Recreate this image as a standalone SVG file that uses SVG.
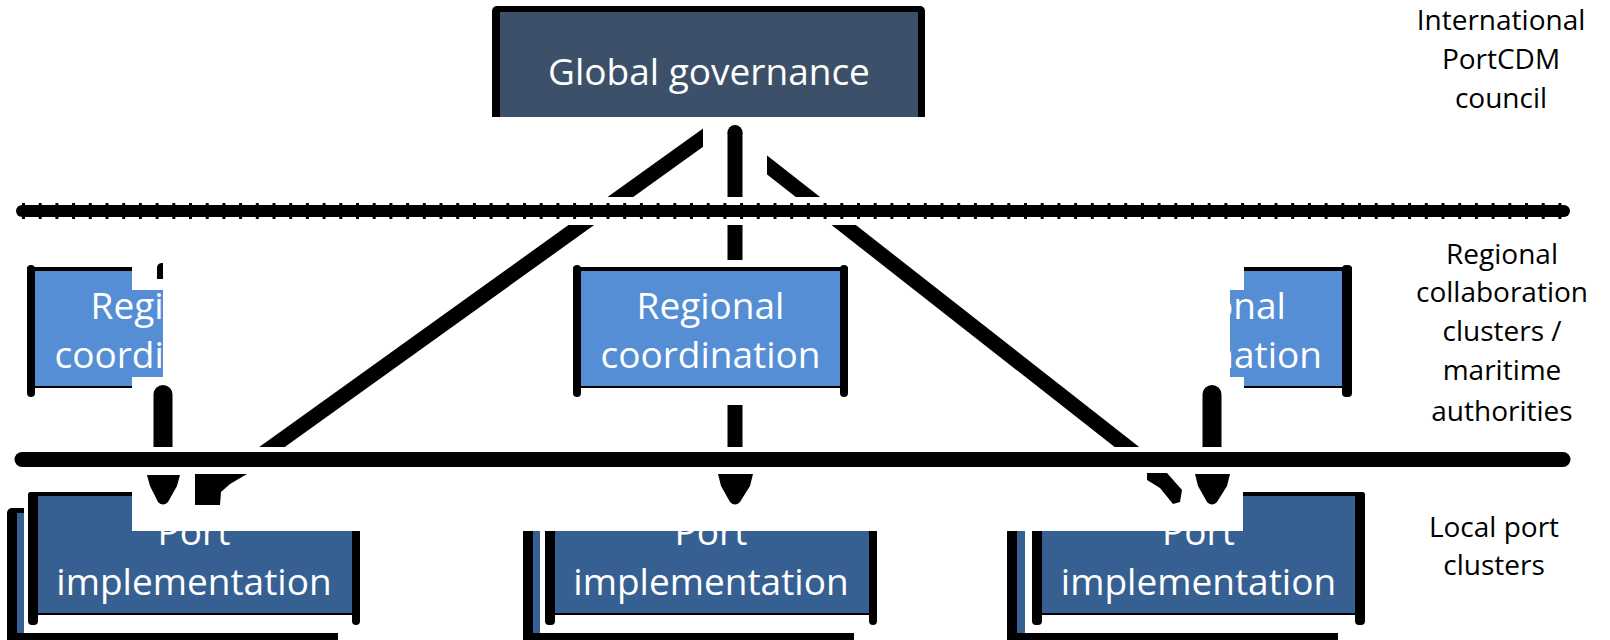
<svg xmlns="http://www.w3.org/2000/svg" width="1610" height="640" viewBox="0 0 1610 640">
<style>
.t{font-family:"Open Sans","Noto Sans","Liberation Sans",sans-serif;fill:#fff;font-size:37px;text-anchor:middle}
.lbl{font-family:"Open Sans","Noto Sans","Liberation Sans",sans-serif;fill:#000;font-size:28px;text-anchor:middle}
.k{fill:#000}
.w{fill:#fff}
.gov{fill:#3C5069}
.reg{fill:#558ED5}
.port{fill:#376092}
.conn{stroke:#000;stroke-width:15;fill:none}
.vert{stroke:#000;stroke-width:19;stroke-linecap:round;fill:none}
.bar{stroke:#000;stroke-linecap:round;fill:none}
</style>
<rect width="1610" height="640" fill="#fff"/>

<g id="global">
<rect class="k" x="492" y="6" width="433" height="130" rx="5"/>
<rect class="gov" x="500" y="12" width="418" height="124"/>
<text class="t" x="709" y="85">Global governance</text>
</g>

<g id="regional-1">
<rect class="k" x="27" y="267" width="275" height="121"/>
<rect class="k" x="27" y="265" width="8" height="132" rx="4"/>
<rect class="k" x="294" y="265" width="8" height="132" rx="4"/>
<rect class="reg" x="35" y="271" width="259" height="115"/>
<text class="t" x="164.5" y="319">Regional</text>
<text class="t" x="164.5" y="368">coordination</text>
</g>

<g id="regional-2">
<rect class="k" x="573" y="267" width="275" height="121"/>
<rect class="k" x="573" y="265" width="8" height="132" rx="4"/>
<rect class="k" x="840" y="265" width="8" height="132" rx="4"/>
<rect class="reg" x="581" y="271" width="259" height="115"/>
<text class="t" x="710.5" y="319">Regional</text>
<text class="t" x="710.5" y="368">coordination</text>
</g>

<g id="regional-3">
<rect class="k" x="1074" y="267" width="278" height="121"/>
<rect class="k" x="1074" y="265" width="8" height="132" rx="4"/>
<rect class="k" x="1342" y="265" width="10" height="132" rx="4"/>
<rect class="reg" x="1082" y="271" width="260" height="115"/>
<text class="t" x="1212" y="319">Regional</text>
<text class="t" x="1212" y="368">coordination</text>
</g>

<g id="port-1">
<rect class="k" x="7" y="508" width="331" height="140" rx="5"/>
<rect class="port" x="17" y="513" width="300" height="120"/>
<rect class="w" x="24" y="500" width="340" height="133"/>
<rect class="k" x="28" y="492" width="332" height="123" rx="3"/>
<rect class="k" x="28" y="492" width="10" height="133" rx="4"/>
<rect class="k" x="352" y="492" width="8" height="133" rx="4"/>
<rect class="port" x="38" y="496" width="314" height="117"/>
<text class="t" x="194" y="545">Port</text>
<text class="t" x="194" y="595">implementation</text>
</g>

<g id="port-2">
<rect class="k" x="523" y="508" width="331" height="140" rx="5"/>
<rect class="port" x="533" y="513" width="300" height="120"/>
<rect class="w" x="540" y="500" width="340" height="133"/>
<rect class="k" x="545" y="492" width="332" height="123" rx="3"/>
<rect class="k" x="545" y="492" width="10" height="133" rx="4"/>
<rect class="k" x="869" y="492" width="8" height="133" rx="4"/>
<rect class="port" x="555" y="496" width="314" height="117"/>
<text class="t" x="711" y="545">Port</text>
<text class="t" x="711" y="595">implementation</text>
</g>

<g id="port-3">
<rect class="k" x="1007" y="508" width="331" height="140" rx="5"/>
<rect class="port" x="1017" y="513" width="300" height="120"/>
<rect class="w" x="1025" y="500" width="345" height="133"/>
<rect class="k" x="1032" y="492" width="333" height="123" rx="3"/>
<rect class="k" x="1032" y="492" width="10" height="133" rx="4"/>
<rect class="k" x="1355" y="492" width="10" height="133" rx="4"/>
<rect class="port" x="1042" y="496" width="313" height="117"/>
<text class="t" x="1198.5" y="545">Port</text>
<text class="t" x="1198.5" y="595">implementation</text>
</g>

<g id="occluders" class="w">
<rect x="480" y="117" width="460" height="25"/>
<rect x="132" y="258" width="175" height="32"/>
<rect x="163" y="290" width="144" height="87"/>
<rect x="132" y="377" width="175" height="24"/>
<rect x="1066" y="258" width="178" height="32"/>
<rect x="1066" y="290" width="164" height="87"/>
<rect x="1066" y="377" width="178" height="24"/>
<rect x="132" y="470" width="236" height="61"/>
<rect x="515" y="470" width="370" height="61"/>
<rect x="995" y="470" width="248" height="61"/>
</g>

<g id="connectors">
<line class="conn" x1="716.5" y1="128" x2="253.9" y2="460"/>
<line class="conn" x1="748" y1="150" x2="1143.5" y2="460"/>
<rect class="w" x="703" y="117" width="24.5" height="80"/>
<rect class="w" x="742.5" y="117" width="24.5" height="80"/>
<path class="conn" d="M735,132.5V260M735,405V460"/>
<circle class="k" cx="735" cy="132.5" r="7.5"/>
<line class="vert" x1="163" y1="394.5" x2="163" y2="460"/>
<line class="vert" x1="1212" y1="394.5" x2="1212" y2="460"/>
<path class="k" d="M157,279V267Q158,262.5 163,263V279Z"/>
<rect class="w" x="0" y="197" width="1610" height="28"/>
<rect class="w" x="0" y="447" width="1610" height="26"/>
<line class="bar" x1="22" y1="211" x2="1564" y2="211" stroke-width="12"/>
<line x1="22" y1="211" x2="1564" y2="211" stroke="#000" stroke-width="16" stroke-dasharray="3 13.7"/>
<line class="bar" x1="22" y1="459.5" x2="1563" y2="459.5" stroke-width="15"/>
<path class="k" d="M147,475H180L177,486L168,502Q163,507 158,502L150,486Z"/>
<path class="k" d="M718,474H753L750,486L740,502Q735,507 730,502L721,486Z"/>
<path class="k" d="M1195,474H1230L1227,486L1217,502Q1212,507 1207,502L1198,486Z"/>
<path class="k" d="M195,474H247L230,484L221,492L220,505H195Z"/>
<path class="k" d="M1147,473H1167L1182,490L1180,502L1173,504L1160,488L1147,480Z"/>
</g>

<g id="labels" class="lbl">
<text x="1501" y="30">International</text>
<text x="1501" y="69">PortCDM</text>
<text x="1501" y="108">council</text>
<text x="1502" y="264">Regional</text>
<text x="1502" y="302">collaboration</text>
<text x="1502" y="341">clusters /</text>
<text x="1502" y="380">maritime</text>
<text x="1502" y="421">authorities</text>
<text x="1494" y="537">Local port</text>
<text x="1494" y="575">clusters</text>
</g>
</svg>
